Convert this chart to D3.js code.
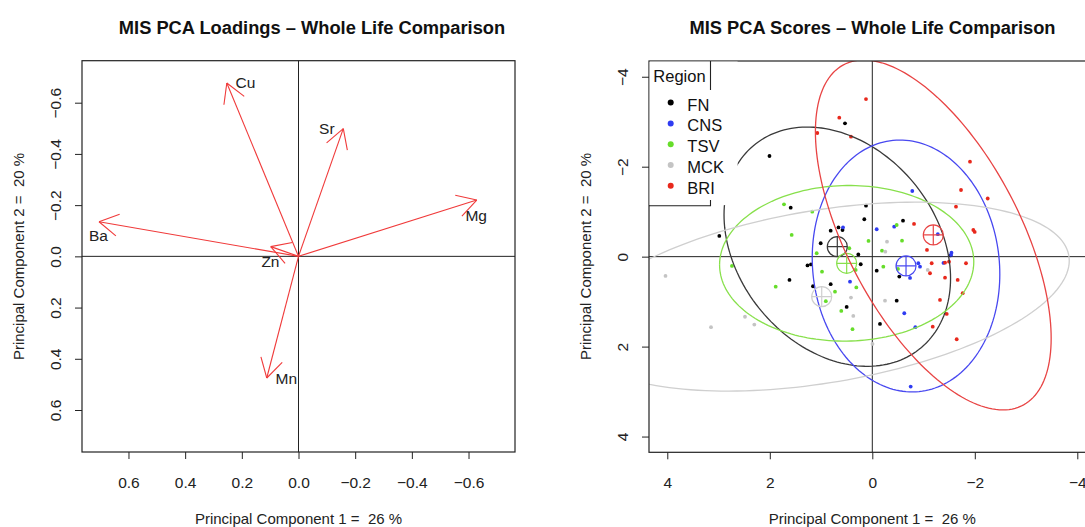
<!DOCTYPE html>
<html>
<head>
<meta charset="utf-8">
<script src="https://cdn.jsdelivr.net/npm/d3@7"></script>
<style>
body { margin: 0; background: #fff; }
svg { font-family: "Liberation Sans", Arial, Helvetica, sans-serif; }
svg text { white-space: pre; }
</style>
</head>
<body>
<div id="vis"></div>
<script>
// ---- loadings (left panel) ----
const loadVars = ['Cu', 'Sr', 'Mg', 'Ba', 'Zn', 'Mn']
const loadPC1 = [0.253, -0.158, -0.629, 0.704, 0.098, 0.112]
const loadPC2 = [-0.677, -0.499, -0.220, -0.135, -0.038, 0.475]
// where the variable names sit
const labelPC1 = [0.187, -0.100, -0.627, 0.706, 0.099, 0.043]
const labelPC2 = [-0.681, -0.499, -0.161, -0.081, 0.018, 0.475]
const loadTicks = [0.6, 0.4, 0.2, 0.0, -0.2, -0.4, -0.6]

// ---- scores (right panel) ----
const regions = ['FN', 'CNS', 'TSV', 'MCK', 'BRI']
const regionColors = ['#000000', '#2f3cf2', '#66dd2a', '#c4c4c4', '#e8281c']
const ellipseColors = ['#3a3a3a', '#4848f0', '#88e04c', '#cfcfcf', '#e84444']

const fnScores = [[0.533,-2.964],[2.006,-2.238],[1.592,-1.089],[0.123,-1.133],[0.156,-0.831],[-0.599,-0.800],
  [2.985,-0.460],[0.812,-0.578],[0.660,-0.649],[0.581,-0.593],[1.007,-0.298],[0.273,-0.049],[0.226,0.169],
  [1.264,0.196],[1.196,0.173],[1.616,0.518],[1.157,0.658],[0.812,0.613],[0.500,1.118],[-0.086,0.311],
  [-0.527,0.444],[-0.476,0.978],[-0.150,1.496],[-1.526,-0.027]]
const cnsScores = [[-0.780,-1.460],[-0.086,-0.609],[-0.427,-0.667],[0.572,-0.649],[-1.278,-0.500],[-1.545,-0.089],
  [-1.536,-0.038],[-0.898,0.147],[-0.931,0.222],[-0.736,0.473],[0.435,0.556],[-0.624,1.258],[-0.839,1.569],
  [-0.749,2.889],[-1.389,0.140]]
const tsvScores = [[1.723,-1.164],[1.171,-1.000],[1.573,-0.482],[2.738,0.207],[1.885,0.667],[1.085,-0.076],
  [0.981,0.333],[0.728,0.778],[0.907,0.991],[0.605,1.207],[0.386,1.613],[0.312,0.684],[0.449,-0.187],
  [0.074,-0.349],[-0.189,-0.133],[-0.215,0.222],[-0.580,-0.356],[-0.476,-0.704],[-0.501,0.273],[0.324,0.296]]
const mckScores = [[4.035,0.429],[3.147,1.569],[2.484,1.336],[2.302,1.511],[0.416,0.911],[0.371,1.318],
  [-0.248,0.978],[-0.287,-0.333],[-0.254,-0.111],[-0.004,1.940],[-1.081,0.296]]
const briScores = [[0.123,-3.504],[0.644,-3.089],[1.073,-2.749],[0.416,-2.667],[-1.906,-2.111],[-1.731,-1.482],
  [-2.252,-1.293],[-1.633,-1.111],[-1.971,-0.593],[-1.998,-0.549],[-0.814,-0.727],[-1.067,-0.149],
  [-1.159,0.147],[-1.419,0.133],[-1.497,0.111],[-1.828,0.147],[-1.126,0.369],[-1.419,0.467],[-1.666,0.518],
  [-1.764,0.813],[-1.321,0.962],[-1.452,1.273],[-1.179,1.556],[-1.647,1.836]]
const regionScores = [fnScores, cnsScores, tsvScores, mckScores, briScores]

// group centroids and ellipse shape (half extents + correlation)
const regionMeans = [[0.683,-0.222],[-0.658,0.207],[0.500,0.148],[0.987,0.889],[-1.190,-0.482]]
const ellRx = [2.21, 1.83, 2.48, 4.83, 2.30]
const ellRy = [2.66, 2.80, 1.73, 2.10, 3.89]
const ellRho = [-0.265, -0.065, 0.02, 0.38, -0.59]
const scoreTicks = [4, 2, 0, -2, -4]

const W = 1085, H = 527
const axisCol = '#222'

const svg = d3.select('#vis').append('svg')
    .attr('width', W).attr('height', H)

// ================= LEFT PANEL =================
const xL = d3.scaleLinear().domain([0.764, -0.764]).range([82, 515])
const yL = d3.scaleLinear().domain([-0.764, 0.764]).range([60.7, 452])

function drawAxes(g, xs, ys, xt, yt, fmt){
    const [x0, x1] = xs.range(), [y0, y1] = ys.range()
    const ax = g.append('g').attr('transform', `translate(0,${y1})`)
        .call(d3.axisBottom(xs).tickValues(xt).tickSize(7).tickPadding(0).tickFormat(fmt))
    ax.select('.domain').remove()
    ax.selectAll('line').attr('stroke', axisCol)
    ax.selectAll('text').attr('font-size', 15.5).attr('fill', axisCol)
        .attr('y', 36).attr('dy', 0)

    const ay = g.append('g').attr('transform', `translate(${x0},0)`)
        .call(d3.axisLeft(ys).tickValues(yt).tickSize(7).tickFormat(fmt))
    ay.select('.domain').remove()
    ay.selectAll('line').attr('stroke', axisCol)
    ay.selectAll('text').attr('font-size', 15.5).attr('fill', axisCol)
        .attr('transform', 'rotate(-90)')
        .attr('x', 0).attr('y', -21).attr('dy', 0)
        .style('text-anchor', 'middle')

    g.append('rect')
        .attr('x', x0).attr('y', y0)
        .attr('width', x1 - x0).attr('height', y1 - y0)
        .attr('fill', 'none').attr('stroke', axisCol).attr('stroke-width', 1.2)
}

const left = svg.append('g')

// zero lines
left.append('line').attr('x1', xL(0.764)).attr('x2', xL(-0.764))
    .attr('y1', yL(0)).attr('y2', yL(0)).attr('stroke', axisCol)
left.append('line').attr('y1', yL(-0.764)).attr('y2', yL(0.764))
    .attr('x1', xL(0)).attr('x2', xL(0)).attr('stroke', axisCol)

const arrowCol = '#f03a3a'
const headLen = 22, headAng = Math.PI / 6

loadVars.forEach((v, i) => {
    const x0 = xL(0), y0 = yL(0)
    const x1 = xL(loadPC1[i]), y1 = yL(loadPC2[i])
    left.append('line')
        .attr('x1', x0).attr('y1', y0).attr('x2', x1).attr('y2', y1)
        .attr('stroke', arrowCol).attr('stroke-width', 1.1)
    const a = Math.atan2(y0 - y1, x0 - x1)
    ;[-headAng, headAng].forEach(d => {
        left.append('line')
            .attr('x1', x1).attr('y1', y1)
            .attr('x2', x1 + headLen * Math.cos(a + d))
            .attr('y2', y1 + headLen * Math.sin(a + d))
            .attr('stroke', arrowCol).attr('stroke-width', 1.1)
    })
    left.append('text')
        .attr('x', xL(labelPC1[i])).attr('y', yL(labelPC2[i]))
        .attr('dy', '0.36em')
        .attr('text-anchor', 'middle')
        .attr('font-size', 15.5).attr('fill', axisCol)
        .text(v)
})

drawAxes(left, xL, yL, loadTicks, loadTicks, d3.format('.1f'))

left.append('text').attr('x', 312).attr('y', 34).attr('text-anchor', 'middle')
    .attr('font-size', 18.3).attr('font-weight', 'bold').attr('fill', '#111')
    .text('MIS PCA Loadings \u2013 Whole Life Comparison')
left.append('text').attr('x', 298.5).attr('y', 524).attr('text-anchor', 'middle')
    .attr('font-size', 15).attr('fill', axisCol)
    .text('Principal Component 1 =  26 %')
left.append('text').attr('transform', 'translate(24,256.5) rotate(-90)')
    .attr('text-anchor', 'middle')
    .attr('font-size', 15).attr('fill', axisCol)
    .text('Principal Component 2 =  20 %')

// ================= RIGHT PANEL =================
const xR = d3.scaleLinear().domain([4.357, -4.357]).range([649, 1095.6])
const yR = d3.scaleLinear().domain([-4.35, 4.35]).range([61, 452.3])

const right = svg.append('g')

svg.append('defs').append('clipPath').attr('id', 'clipR')
    .append('rect').attr('x', 649).attr('y', 61)
    .attr('width', 1095.6 - 649).attr('height', 452.3 - 61)

const plotR = right.append('g').attr('clip-path', 'url(#clipR)')

plotR.append('line').attr('x1', xR(4.357)).attr('x2', xR(-4.357))
    .attr('y1', yR(0)).attr('y2', yR(0)).attr('stroke', axisCol)
plotR.append('line').attr('y1', yR(-4.35)).attr('y2', yR(4.35))
    .attr('x1', xR(0)).attr('x2', xR(0)).attr('stroke', axisCol)

// points
regionScores.forEach((pts, gi) => {
    plotR.selectAll('.pt' + gi)
        .data(pts)
        .join('circle')
        .attr('class', 'pt' + gi)
        .attr('cx', d => xR(d[0]))
        .attr('cy', d => yR(d[1]))
        .attr('r', 1.9)
        .attr('fill', regionColors[gi])
})

// ellipses
const line = d3.line().x(d => xR(d[0])).y(d => yR(d[1]))
regions.forEach((r, gi) => {
    const [cx, cy] = regionMeans[gi]
    const s = Math.sqrt(1 - ellRho[gi] * ellRho[gi])
    const pts = d3.range(0, 361, 2).map(deg => {
        const t = deg * Math.PI / 180
        return [cx + ellRx[gi] * Math.cos(t),
                cy + ellRy[gi] * (ellRho[gi] * Math.cos(t) + s * Math.sin(t))]
    })
    plotR.append('path').attr('d', line(pts))
        .attr('fill', 'none').attr('stroke', ellipseColors[gi]).attr('stroke-width', 1.3)

    // centroid marker (circle with a cross)
    const mx = xR(cx), my = yR(cy), mr = 10
    plotR.append('circle').attr('cx', mx).attr('cy', my).attr('r', mr)
        .attr('fill', 'none').attr('stroke', ellipseColors[gi]).attr('stroke-width', 1.2)
    plotR.append('line').attr('x1', mx - mr).attr('x2', mx + mr).attr('y1', my).attr('y2', my)
        .attr('stroke', ellipseColors[gi]).attr('stroke-width', 1.2)
    plotR.append('line').attr('x1', mx).attr('x2', mx).attr('y1', my - mr).attr('y2', my + mr)
        .attr('stroke', ellipseColors[gi]).attr('stroke-width', 1.2)
})

drawAxes(right, xR, yR, scoreTicks, scoreTicks, d3.format('d'))

// legend
const lg = right.append('g')
lg.append('rect').attr('x', 649.6).attr('y', 61.6).attr('width', 88).attr('height', 143.5)
    .attr('fill', '#fff')
lg.append('path')
    .attr('d', 'M649,205.7H710.5V200 M710.5,61V90')
    .attr('fill', 'none').attr('stroke', axisCol).attr('stroke-width', 1.1)
lg.append('text').attr('x', 653.3).attr('y', 82)
    .attr('font-size', 16.5).attr('fill', '#111').text('Region')
regions.forEach((r, i) => {
    const yy = 102.6 + i * 20.8
    lg.append('circle').attr('cx', 670.7).attr('cy', yy).attr('r', 3)
        .attr('fill', regionColors[i])
    lg.append('text').attr('x', 687.3).attr('y', yy + 8)
        .attr('font-size', 16.5).attr('fill', '#111').text(r)
})

right.append('text').attr('x', 872.5).attr('y', 34).attr('text-anchor', 'middle')
    .attr('font-size', 18.3).attr('font-weight', 'bold').attr('fill', '#111')
    .text('MIS PCA Scores \u2013 Whole Life Comparison')
right.append('text').attr('x', 872.3).attr('y', 524).attr('text-anchor', 'middle')
    .attr('font-size', 15).attr('fill', axisCol)
    .text('Principal Component 1 =  26 %')
right.append('text').attr('transform', 'translate(591,256.5) rotate(-90)')
    .attr('text-anchor', 'middle')
    .attr('font-size', 15).attr('fill', axisCol)
    .text('Principal Component 2 =  20 %')
</script>
</body>
</html>
